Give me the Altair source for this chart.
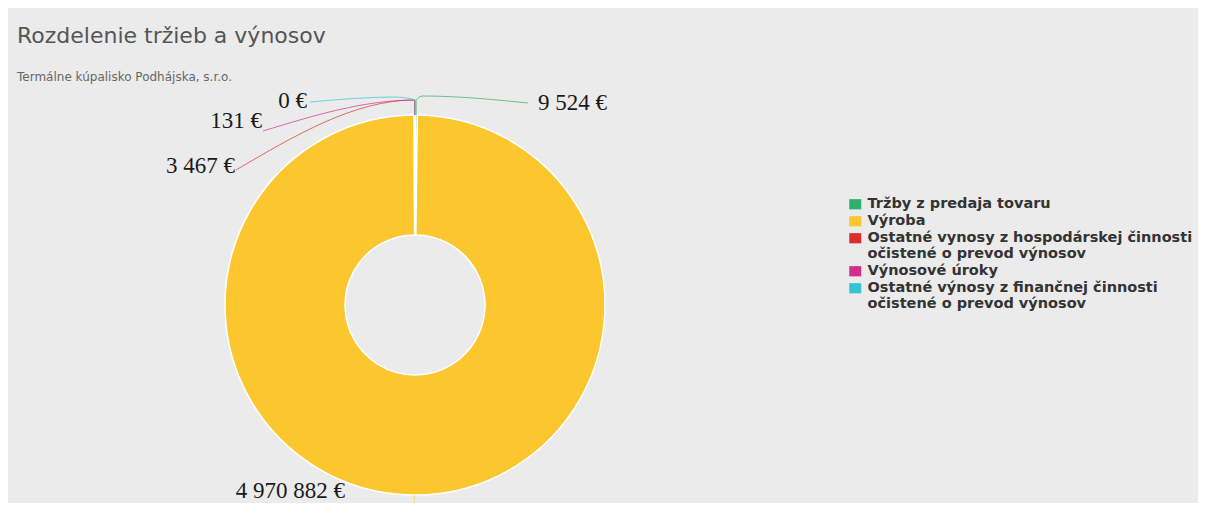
import math
import altair as alt
import pandas as pd

# ---- data ----
categories = [
    "Tržby z predaja tovaru",
    "Výroba",
    "Ostatné vynosy z hospodárskej činnosti|očistené o prevod výnosov",
    "Výnosové úroky",
    "Ostatné výnosy z finančnej činnosti|očistené o prevod výnosov",
]
values = [9524, 4970882, 3467, 131, 0]
colors = ["#2fae6e", "#fcc62e", "#d9302c", "#d12f8a", "#2fc6d0"]

# ---- layout (pixels) ----
W, H = 1190, 420          # plot area
CX, CY = 407, 222         # pie centre inside plot area
R_OUT, R_IN = 190, 70
KNEE = 15
BG = "#ebebeb"

# label anchors (relative to pie centre, y up) and side
label_layout = {
    0: dict(end=(113, 202), text=(123, 202), side="left", via=[(8, 209)]),
    1: dict(end=None, text=(-70, -186), side="right", via=[]),
    2: dict(end=(-179, 135), text=(-180, 139), side="right", via=[]),
    3: dict(end=(-152, 174), text=(-153, 184), side="right", via=[]),
    4: dict(end=(-105, 203), text=(-108, 204), side="right", via=[(-20, 208)]),
}

total = sum(values)
rows = []
cum = 0
for i, (c, v) in enumerate(zip(categories, values)):
    mid = (cum + v / 2) / total * 2 * math.pi
    cum += v
    rows.append(dict(name=c, value=v, order=i, mid=mid))
slices = pd.DataFrame(rows)

def fmt(v):
    return f"{v:,}".replace(",", " ") + " €"

labels = []
lines = []
for i, r in enumerate(rows):
    lay = label_layout[i]
    tx, ty = lay["text"]
    labels.append(dict(x=tx, y=ty, txt=fmt(int(r["value"])), side=lay["side"]))
    a = r["mid"]
    pts = [(R_OUT * math.sin(a), R_OUT * math.cos(a)),
           ((R_OUT + KNEE) * math.sin(a), (R_OUT + KNEE) * math.cos(a))]
    pts += lay["via"]
    if lay["end"] is not None:
        pts.append(lay["end"])
    else:
        pts.append(((R_OUT + KNEE + 14) * math.sin(a), (R_OUT + KNEE + 14) * math.cos(a)))
    for k, (px, py) in enumerate(pts):
        lines.append(dict(name=r["name"], k=k, x=px, y=py, col=colors[i]))
labels = pd.DataFrame(labels)
lines = pd.DataFrame(lines)

xs = alt.Scale(domain=[-CX, W - CX], nice=False, zero=False)
ys = alt.Scale(domain=[-(H - CY), CY], nice=False, zero=False)

legend = alt.Legend(
    title=None, orient="none", legendX=840, legendY=114,
    labelExpr="split(datum.label, '|')",
    labelFont="DejaVu Sans", labelFontSize=14.5, labelFontWeight="bold",
    labelColor="#333333", labelLimit=500, labelBaseline="middle",
    labelOffset=5,
    symbolType="M-1,-0.85H1V0.85H-1Z", symbolSize=144,
    symbolStrokeWidth=0, rowPadding=2, symbolOffset=0,
)

arc = alt.Chart(slices).mark_arc(
    innerRadius=R_IN, outerRadius=R_OUT, stroke="white", strokeWidth=1.5
).encode(
    theta=alt.Theta("value:Q", stack=True),
    order=alt.Order("order:Q"),
    color=alt.Color("name:N", scale=alt.Scale(domain=categories, range=colors), legend=legend),
    x=alt.datum(0, scale=xs, axis=None),
    y=alt.datum(0, scale=ys, axis=None),
)

conn = alt.Chart(lines).mark_line(strokeWidth=1, opacity=0.7, interpolate="monotone").encode(
    x=alt.X("x:Q", scale=xs, axis=None),
    y=alt.Y("y:Q", scale=ys, axis=None),
    detail="name:N",
    order="k:Q",
    stroke=alt.Stroke("col:N", scale=None),
)

txt_left = alt.Chart(labels).transform_filter("datum.side == 'left'").mark_text(
    align="left", baseline="middle", font="Liberation Serif", fontSize=23, color="#1a1a1a"
).encode(x=alt.X("x:Q", scale=xs, axis=None), y=alt.Y("y:Q", scale=ys, axis=None), text="txt:N")

txt_right = alt.Chart(labels).transform_filter("datum.side == 'right'").mark_text(
    align="right", baseline="middle", font="Liberation Serif", fontSize=23, color="#1a1a1a"
).encode(x=alt.X("x:Q", scale=xs, axis=None), y=alt.Y("y:Q", scale=ys, axis=None), text="txt:N")

chart = alt.layer(arc, conn, txt_left, txt_right).properties(
    width=W, height=H,
    title=alt.TitleParams(
        "Rozdelenie tržieb a výnosov",
        subtitle="Termálne kúpalisko Podhájska, s.r.o.",
        anchor="start", frame="group", font="DejaVu Sans", fontSize=22,
        fontWeight="normal", color="#555555",
        subtitleFont="DejaVu Sans", subtitleFontSize=12, subtitleColor="#666666",
        subtitlePadding=24, offset=-1, dx=9,
    ),
    padding={"left": 0, "top": 75, "right": 0, "bottom": 0},
    autosize=alt.AutoSizeParams(type="none"),
    background=BG,
).configure(style={"guide-label": {"lineHeight": 16}}).configure_view(stroke=None)

chart.save("out.html", embed_options={"renderer": "svg", "actions": False})
